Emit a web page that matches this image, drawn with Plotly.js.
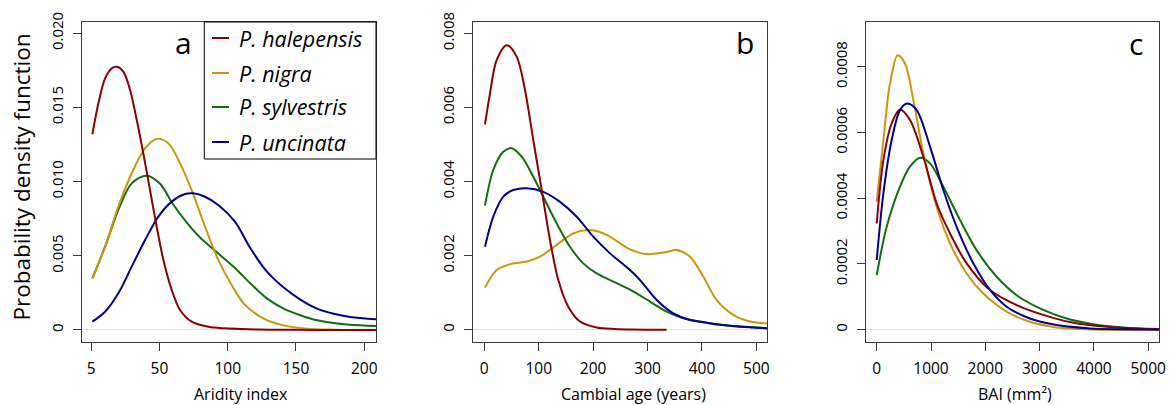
<!DOCTYPE html>
<html>
<head>
<meta charset="utf-8">
<script src="https://cdn.plot.ly/plotly-3.0.1.min.js"></script>
<style>html,body{margin:0;padding:0;background:#fff;}#chart{width:1175px;height:405px;}</style>
</head>
<body>
<div id="chart"></div>
<script>
// ---------- data ----------
const species = ["P. halepensis", "P. nigra", "P. sylvestris", "P. uncinata"];
const speciesColors = ["#8B0000", "#CD950C", "#0d700d", "#00008B"];
const panelLetters = ["a", "b", "c"];
const xTitles = ["Aridity index", "Cambial age (years)", "BAI (mm²)"];
const yTitle = "Probability density function";

// Panel a: aridity index
const aridity_halepensis_x = [0.9, 5.3, 10.2, 15.1, 18.7, 23.6, 28.5, 33.4, 38.2, 43.1, 48, 52.9, 59, 65.1, 73.6, 85.8, 98, 110, 130, 160, 209];
const aridity_halepensis_y = [0.01319, 0.01528, 0.01696, 0.01763, 0.01774, 0.01741, 0.01617, 0.01415, 0.01191, 0.00943, 0.00696, 0.00472, 0.0027, 0.00135, 0.00056, 0.00022, 0.00011, 0.00006, 0.00002, 0.000005, 0];
const aridity_nigra_x = [0.9, 10.2, 19.9, 29.7, 39.5, 48, 56.5, 65.1, 73.6, 83.4, 93.1, 102.9, 111.8, 126.4, 141, 158, 177.6, 191];
const aridity_nigra_y = [0.00348, 0.00561, 0.00831, 0.01056, 0.01224, 0.01287, 0.01258, 0.01123, 0.00943, 0.00696, 0.00472, 0.00303, 0.00178, 0.00076, 0.00031, 0.00009, 0.00002, 0];
const aridity_sylvestris_x = [0.9, 10.2, 19.9, 29.7, 40.7, 50.5, 59.6, 71.2, 80.1, 89.5, 104.5, 116.7, 128.9, 141, 153.2, 165.4, 177.6, 189.8, 209];
const aridity_sylvestris_y = [0.00348, 0.00561, 0.00809, 0.00988, 0.0104, 0.00985, 0.00852, 0.0071, 0.0062, 0.00544, 0.00425, 0.00313, 0.00211, 0.00144, 0.00099, 0.00065, 0.00047, 0.00036, 0.00027];
const aridity_uncinata_x = [0.9, 10.2, 19.9, 29.7, 39.5, 49.2, 59, 68.7, 74.8, 83.4, 93.1, 105.3, 116.7, 128.9, 141, 153.2, 165.4, 177.6, 189.8, 209];
const aridity_uncinata_y = [0.00056, 0.00123, 0.00247, 0.00427, 0.00606, 0.00764, 0.00865, 0.00916, 0.00921, 0.00898, 0.00842, 0.0073, 0.00549, 0.00391, 0.00286, 0.00205, 0.00144, 0.0011, 0.00088, 0.00072];

// Panel b: cambial age
const age_halepensis_x = [1.3, 10.5, 22.8, 41.2, 59.5, 74.8, 90, 105.5, 120.7, 136, 154.3, 175.8, 206.5, 240, 270, 335];
const age_halepensis_y = [0.00554, 0.00638, 0.00728, 0.00768, 0.00737, 0.00647, 0.00512, 0.00377, 0.00242, 0.00134, 0.00062, 0.00022, 0.00006, 0.00002, 0.000005, 0];
const age_nigra_x = [1.3, 22.8, 47.2, 77.9, 102.3, 133, 163.5, 194.2, 224.9, 267.7, 298.4, 335, 353.6, 378, 402.6, 427, 457.7, 488.4, 520];
const age_nigra_y = [0.00114, 0.00161, 0.00177, 0.00184, 0.00197, 0.00229, 0.0026, 0.00269, 0.00256, 0.00217, 0.00204, 0.0021, 0.00215, 0.00197, 0.00143, 0.0008, 0.0004, 0.00022, 0.00017];
const age_sylvestris_x = [1.3, 16.5, 34.9, 50.3, 68.7, 90, 108.4, 133, 157.4, 181.9, 206.5, 237, 267.7, 304.5, 335, 365.8, 396.4, 427, 457.7, 520];
const age_sylvestris_y = [0.00335, 0.00431, 0.0048, 0.0049, 0.00467, 0.00413, 0.00359, 0.00287, 0.00224, 0.00179, 0.00152, 0.0013, 0.00108, 0.00076, 0.00049, 0.00031, 0.00022, 0.00014, 0.0001, 0.00004];
const age_uncinata_x = [1.3, 16.5, 34.9, 53.3, 77.9, 108.4, 139.1, 169.8, 200.3, 231, 267.7, 286.2, 316.8, 347.4, 378, 408.7, 439.3, 470, 520];
const age_uncinata_y = [0.00224, 0.00305, 0.00359, 0.00377, 0.00382, 0.00372, 0.00345, 0.00305, 0.00251, 0.00206, 0.00161, 0.00134, 0.0008, 0.00044, 0.00026, 0.00019, 0.00013, 0.00008, 0.00004];

// Panel c: BAI
const bai_halepensis_x = [0, 123, 276, 429, 613, 859, 1104, 1350, 1656, 2086, 2577, 3067, 3620, 4233, 4847, 5202];
const bai_halepensis_y = [0.000323, 0.000516, 0.000628, 0.00067, 0.000638, 0.000526, 0.000384, 0.000293, 0.000202, 0.000121, 0.000075, 0.000045, 0.000021, 0.000009, 0.000003, 0.000001];
const bai_nigra_x = [0, 123, 245, 387, 521, 675, 859, 1104, 1350, 1656, 1963, 2393, 2822, 3313, 3926, 4500, 5202];
const bai_nigra_y = [0.000389, 0.000577, 0.000749, 0.000835, 0.00081, 0.000699, 0.000536, 0.000374, 0.000263, 0.000171, 0.00011, 0.000055, 0.000024, 0.000007, 0.000001, 0, 0];
const bai_sylvestris_x = [0, 184, 429, 613, 798, 982, 1227, 1534, 1840, 2209, 2577, 3006, 3497, 3988, 4540, 5202];
const bai_sylvestris_y = [0.000166, 0.000313, 0.000435, 0.000496, 0.000523, 0.000506, 0.000435, 0.000334, 0.000242, 0.000161, 0.000105, 0.000065, 0.000034, 0.000017, 0.000007, 0.000002];
const bai_uncinata_x = [0, 123, 276, 429, 564, 736, 982, 1227, 1472, 1779, 2086, 2393, 2822, 3313, 3926, 5202];
const bai_uncinata_y = [0.000212, 0.000415, 0.000577, 0.000668, 0.000688, 0.000668, 0.000557, 0.000425, 0.000313, 0.000202, 0.000121, 0.00007, 0.000034, 0.000014, 0.000004, 0.000001];

// tick labels
const xTickVals = [[0, 50, 100, 150, 200], [0, 100, 200, 300, 400, 500], [0, 1000, 2000, 3000, 4000, 5000]];
const xTickText = [["5", "50", "100", "150", "200"], ["0", "100", "200", "300", "400", "500"], ["0", "1000", "2000", "3000", "4000", "5000"]];
const yTickVals = [[0, 0.005, 0.010, 0.015, 0.020], [0, 0.002, 0.004, 0.006, 0.008], [0, 0.0002, 0.0004, 0.0006, 0.0008]];
const yTickText = [["0", "0.005", "0.010", "0.015", "0.020"], ["0", "0.002", "0.004", "0.006", "0.008"], ["0", "0.0002", "0.0004", "0.0006", "0.0008"]];

// ---------- build ----------
const panelSeries = [
  [[aridity_halepensis_x, aridity_halepensis_y], [aridity_nigra_x, aridity_nigra_y], [aridity_sylvestris_x, aridity_sylvestris_y], [aridity_uncinata_x, aridity_uncinata_y]],
  [[age_halepensis_x, age_halepensis_y], [age_nigra_x, age_nigra_y], [age_sylvestris_x, age_sylvestris_y], [age_uncinata_x, age_uncinata_y]],
  [[bai_halepensis_x, bai_halepensis_y], [bai_nigra_x, bai_nigra_y], [bai_sylvestris_x, bai_sylvestris_y], [bai_uncinata_x, bai_uncinata_y]]
];
// draw order per panel (later drawn on top)
const drawOrder = [[2, 1, 3, 0], [1, 2, 3, 0], [2, 1, 0, 3]];

const W = 1175, H = 405;
const FONT = "Open Sans, DejaVu Sans, sans-serif";
const px = v => v / W;
const py = v => 1 - v / H;

const xDomains = [[82, 376], [473.3, 767.3], [866, 1159.3]];
const yDomain = [py(342), py(22)];
const xRanges = [[-6.7, 208.6], [-20.2, 520], [-197, 5204]];
const yRanges = [[-0.00081, 0.020755], [-0.000332, 0.008305], [-0.0000374, 0.000936]];

const traces = [];
const layout = {
  width: W, height: H,
  margin: {l: 0, r: 0, t: 0, b: 0},
  paper_bgcolor: "#fff", plot_bgcolor: "#fff",
  showlegend: false,
  font: {family: FONT, size: 15, color: "#000"},
  annotations: [], shapes: []
};

for (let p = 0; p < 3; p++) {
  const sfx = p === 0 ? "" : String(p + 1);
  drawOrder[p].forEach(s => {
    traces.push({
      type: "scatter", mode: "lines",
      x: panelSeries[p][s][0], y: panelSeries[p][s][1],
      name: species[s],
      line: {color: speciesColors[s], width: 2, shape: "spline", smoothing: 0.9},
      xaxis: "x" + sfx, yaxis: "y" + sfx,
      hoverinfo: "skip"
    });
  });
  layout["xaxis" + sfx] = {
    domain: [px(xDomains[p][0]), px(xDomains[p][1])],
    range: xRanges[p], anchor: "y" + sfx,
    showgrid: false, zeroline: false,
    showline: true, mirror: true, linecolor: "#3a3a3a", linewidth: 1,
    ticks: "outside", ticklen: 8, tickwidth: 1, tickcolor: "#3a3a3a",
    tickvals: xTickVals[p], ticktext: xTickText[p],
    tickfont: {family: FONT, size: 15.5, color: "#000"},
    ticklabelstandoff: 4
  };
  layout["yaxis" + sfx] = {
    domain: yDomain,
    range: yRanges[p], anchor: "x" + sfx,
    showgrid: false, zeroline: true, zerolinecolor: "#dddddd", zerolinewidth: 1,
    showline: true, mirror: true, linecolor: "#3a3a3a", linewidth: 1,
    ticks: "outside", ticklen: 8, tickwidth: 1, tickcolor: "#3a3a3a",
    tickvals: yTickVals[p], ticktext: yTickText[p],
    tickangle: -90,
    tickfont: {family: FONT, size: 15, color: "#000"},
    ticklabelstandoff: 4
  };
}

// axis titles
const xTitlePos = [241, 633, 1015];
xTitles.forEach((t, i) => {
  layout.annotations.push({
    text: t, xref: "paper", yref: "paper", x: px(xTitlePos[i]), y: py(394),
    xanchor: "center", yanchor: "middle", showarrow: false,
    font: {family: FONT, size: 16, color: "#000"}
  });
});
layout.annotations.push({
  text: yTitle, xref: "paper", yref: "paper", x: px(22), y: py(177.6),
  xanchor: "center", yanchor: "middle", textangle: -90, showarrow: false,
  font: {family: FONT, size: 22.5, color: "#000"}
});

// panel letters
const letterPos = [[183, 42], [745, 42], [1136, 43]];
panelLetters.forEach((l, i) => {
  layout.annotations.push({
    text: l, xref: "paper", yref: "paper", x: px(letterPos[i][0]), y: py(letterPos[i][1]),
    xanchor: "center", yanchor: "middle", showarrow: false,
    font: {family: FONT, size: 30, color: "#000"}
  });
});

// legend box (panel a)
layout.shapes.push({
  type: "rect", xref: "paper", yref: "paper",
  x0: px(204.3), x1: px(376), y0: py(159), y1: py(22),
  line: {color: "#000", width: 1}, fillcolor: "#fff", layer: "above"
});
const legendRows = [38, 73, 107, 142];
species.forEach((s, i) => {
  layout.shapes.push({
    type: "line", xref: "paper", yref: "paper",
    x0: px(212), x1: px(229), y0: py(legendRows[i]), y1: py(legendRows[i]),
    line: {color: speciesColors[i], width: 2}, layer: "above"
  });
  layout.annotations.push({
    text: "<i>" + s + "</i>", xref: "paper", yref: "paper",
    x: px(237), y: py(legendRows[i]), xanchor: "left", yanchor: "middle",
    showarrow: false, font: {family: FONT, size: 21.5, color: "#000"}
  });
});

Plotly.newPlot("chart", traces, layout, {staticPlot: true, displayModeBar: false});
</script>
</body>
</html>
